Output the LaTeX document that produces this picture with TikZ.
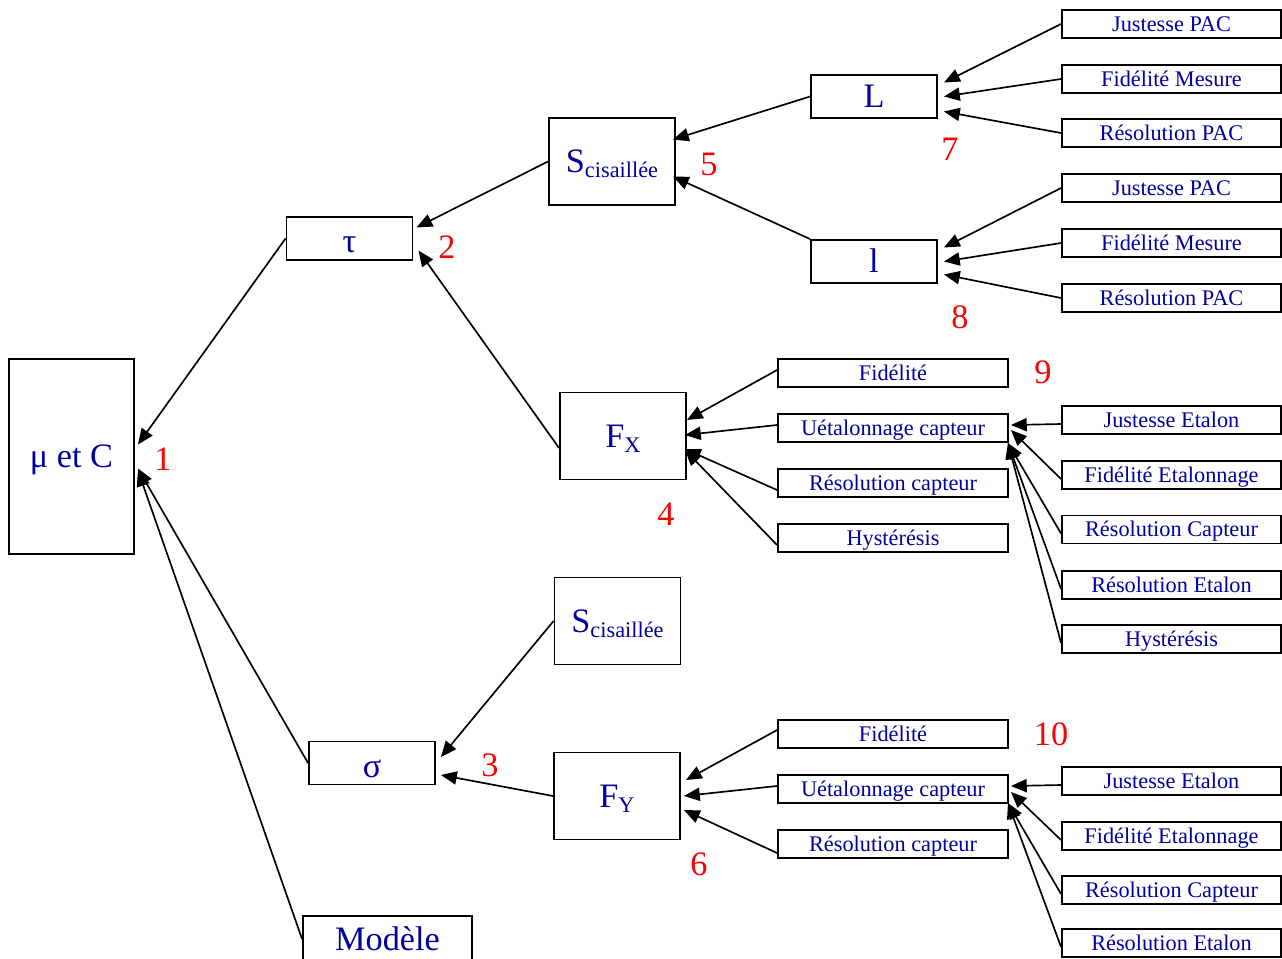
\documentclass[tikz,border=0pt]{standalone}
\usepackage{fontspec}
\setmainfont{Liberation Serif}
\usetikzlibrary{arrows.meta}
\definecolor{bleu}{RGB}{0,0,160}
\tikzset{
    boite/.style={draw, line width=1.1pt, inner sep=0pt, text=bleu, text depth=0pt}, % cadre commun
    grand/.style={boite, font=\fontsize{19.5}{22}\selectfont, text height=12.9pt, minimum width=2.52cm, minimum height=0.86cm}, % grandeurs
    feuille/.style={boite, font=\fontsize{12.7}{15}\selectfont, text height=8.4pt, minimum width=4.38cm, minimum height=0.56cm}, % sources
    num/.style={text=red, font=\fontsize{19.5}{22}\selectfont, inner sep=0pt, text height=12.9pt, text depth=0pt}, % numeros
    fl/.style={-{Triangle[length=9pt,width=7.5pt]}, line width=0.95pt} % fleches
}
\newcommand{\ind}[1]{\raisebox{-2.8pt}{\fontsize{12.7}{15}\selectfont #1}}

\begin{document}
\begin{tikzpicture}[x=0.02cm, y=-0.02cm]
    \useasboundingbox (0,0) rectangle (1282,958);
    \clip (0,0) rectangle (1282,958);

    % grandeurs
    \node[grand, minimum width=2.5cm, minimum height=3.9cm] (mu) at (71.5,456.5) {μ et C};
    \node[grand, text height=16.3pt] (tau) at (349.5,238.5) {τ};
    \node[grand, minimum height=1.74cm] (Shaut) at (612,161.5) {S\ind{cisaillée}};
    \node[grand] (L) at (874,96.5) {L};
    \node[grand] (l) at (874,261.5) {l};
    \node[grand, minimum height=1.74cm] (fx) at (623,436) {F\ind{X}};
    \node[grand, minimum height=1.74cm] (Sbas) at (617.5,621) {S\ind{cisaillée}};
    \node[grand, text height=16.3pt] (sigma) at (372,763) {σ};
    \node[grand, minimum height=1.74cm] (fy) at (617,796) {F\ind{Y}};
    \node[grand, minimum width=3.38cm, minimum height=0.92cm] (modele) at (387.5,939) {Modèle};

    % numeros
    \node[num] (n1) at (163,459) {1};
    \node[num] (n2) at (447,247) {2};
    \node[num] (n3) at (490,765) {3};
    \node[num] (n4) at (666,514) {4};
    \node[num] (n5) at (709,164) {5};
    \node[num] (n6) at (699,864) {6};
    \node[num] (n7) at (950,149) {7};
    \node[num] (n8) at (960,317) {8};
    \node[num] (n9) at (1043,372) {9};
    \node[num] (n10) at (1051,734) {10};

    % liaisons principales
    \draw[fl] (tau.west) -- ([shift={(3,-12)}]mu.east);
    \draw[fl] (sigma.west) -- ([shift={(3,12)}]mu.east);
    \draw[fl] (modele.west) -- ([shift={(3,14)}]mu.east);
    \draw[fl] (Shaut.west) -- ([shift={(3,-11)}]tau.east);
    \draw[fl] ([shift={(0,12)}]fx.west) -- ([shift={(5,12)}]tau.east);
    \draw[fl] (L.west) -- ([shift={(-3,-22)}]Shaut.east);
    \draw[fl] (l.north west) -- ([shift={(-3,15)}]Shaut.east);
    \draw[fl] (Sbas.west) -- ([shift={(5,-6)}]sigma.east);
    \draw[fl] (fy.west) -- ([shift={(5,12)}]sigma.east);

    % sources de L et l
    \foreach \t/\y/\dy [count=\i] in {Justesse PAC/24/-14, Fidélité Mesure/79/0, Résolution PAC/133/15} {
        \node[feuille] (pL\i) at (1171.5,\y) {\t};
        \draw[fl] (pL\i.west) -- ([shift={(6,\dy)}]L.east);
    }
    \foreach \t/\y/\dy [count=\i] in {Justesse PAC/188/-14, Fidélité Mesure/243/0, Résolution PAC/298/13} {
        \node[feuille] (pl\i) at (1171.5,\y) {\t};
        \draw[fl] (pl\i.west) -- ([shift={(6,\dy)}]l.east);
    }

    % sources de F_X
    \foreach \t/\y/\sy/\tx/\ty [count=\i] in {Fidélité/373/-3/0/-16, Uétalonnage capteur/428/-3/-2/-1, Résolution capteur/483/7/-2/13, Hystérésis/538/7/-2/14} {
        \node[feuille, minimum width=4.6cm] (x\i) at (893,\y) {\t};
        \draw[fl] ([shift={(0,\sy)}]x\i.west) -- ([shift={(\tx,\ty)}]fx.east);
    }
    \foreach \t/\y/\tx/\ty [count=\i] in {Justesse Etalon/420/2/-3, Fidélité Etalonnage/475/2/2, Résolution Capteur/529.5/-1/15, Résolution Etalon/585/-1/15, Hystérésis/639/-1/15} {
        \node[feuille] (e\i) at (1171.5,\y) {\t};
        \draw[fl] ([shift={(0,4)}]e\i.west) -- ([shift={(\tx,\ty)}]x2.east);
    }

    % sources de F_Y
    \foreach \t/\y/\sy/\tx/\ty [count=\i] in {Fidélité/734/-4/5/-16, Uétalonnage capteur/789/-3/3/0, Résolution capteur/844/9/3/14} {
        \node[feuille, minimum width=4.6cm] (y\i) at (893,\y) {\t};
        \draw[fl] ([shift={(0,\sy)}]y\i.west) -- ([shift={(\tx,\ty)}]fy.east);
    }
    \foreach \t/\y/\tx/\ty [count=\i] in {Justesse Etalon/781/2/-3, Fidélité Etalonnage/836/2/3, Résolution Capteur/890/-1/14, Résolution Etalon/943/-1/14} {
        \node[feuille] (f\i) at (1171.5,\y) {\t};
        \draw[fl] ([shift={(0,4)}]f\i.west) -- ([shift={(\tx,\ty)}]y2.east);
    }
\end{tikzpicture}
\end{document}
